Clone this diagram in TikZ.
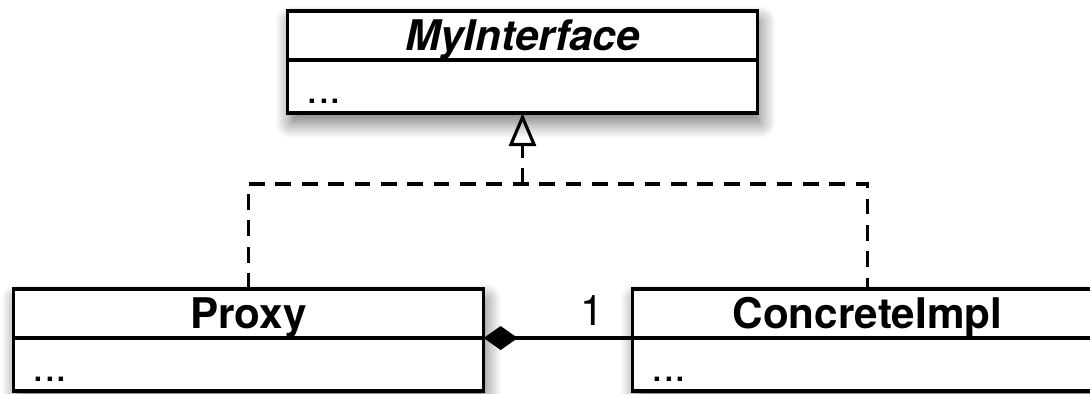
\documentclass[tikz,border=0pt]{standalone}
\usepackage{fontspec}
\setmainfont{TeX Gyre Heros}
\usepackage{tikz}
\usetikzlibrary{arrows.meta, positioning, backgrounds, shadows.blur}

\newcommand{\umlfont}{\fontsize{12}{14}\selectfont}

\tikzset{
  classname/.style={draw, line width=0.9pt, fill=white, minimum width=4.7cm,
    minimum height=0.49cm, inner sep=0pt, outer sep=0pt,
    font=\umlfont\bfseries, text height=8.6pt, text depth=0pt},
  classops/.style={draw, line width=0.9pt, fill=white, minimum height=0.53cm,
    inner xsep=0.19cm, inner ysep=0pt, outer sep=0pt, text width=4.32cm,
    align=left, font=\umlfont, text height=0.33cm, text depth=0pt},
  classshadow/.style={blur shadow={shadow xshift=0.03cm, shadow yshift=-0.1cm,
    shadow blur radius=0.15cm, shadow blur steps=14, shadow opacity=55}},
  realize/.style={line width=0.9pt, dash pattern=on 4.5pt off 3pt},
}

\begin{document}
\begin{tikzpicture}[x=0.01cm, y=0.01cm]
  \useasboundingbox (0,0) rectangle (1090,393);
  % Classes
  \node[classname] (iface) at (522.5,357.5) {\itshape MyInterface};
  \node[classops, below=0pt of iface] (iface ops) {...};
  \node[classname] (proxy) at (248.5,79.5) {Proxy};
  \node[classops, below=0pt of proxy] (proxy ops) {...};
  \node[classname] (impl) at (867.5,79.5) {ConcreteImpl};
  \node[classops, below=0pt of impl] (impl ops) {...};
  \begin{scope}[on background layer]
    \foreach \c in {iface, proxy, impl}
      \path[classshadow] (\c.north west) rectangle (\c\space ops.south east);
  \end{scope}
  % Realization
  \coordinate (join) at (522.5,209);
  \draw[realize] (proxy.north) |- (join) -| (impl.north);
  \draw[realize, -{Triangle[open, length=0.33cm, width=0.27cm]}] (join) -- (iface ops.south);
  % Composition
  \draw[line width=0.9pt, {Diamond[length=0.34cm, width=0.24cm]}-] (proxy.south east) -- (impl.south west)
    node[pos=1, anchor=south east, inner sep=0pt, xshift=-0.27cm, yshift=0.11cm, font=\umlfont] (mult) {1};
\end{tikzpicture}
\end{document}
